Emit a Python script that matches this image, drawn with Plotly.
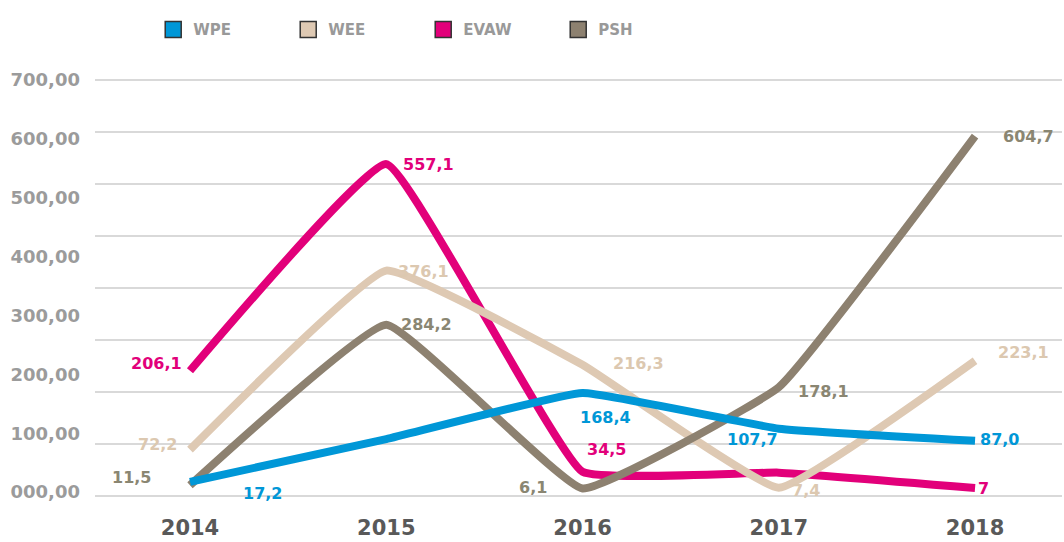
import plotly.graph_objects as go

# ---------------- data ----------------
years = [2014, 2015, 2016, 2017, 2018]
series_names = ["WPE", "WEE", "EVAW", "PSH"]

wpe = [17.2, 90.0, 168.4, 107.7, 87.0]
wee = [72.2, 376.1, 216.3, 7.4, 223.1]
evaw = [206.1, 557.1, 34.5, 33.0, 7.0]
psh = [11.5, 284.2, 6.1, 178.1, 604.7]

wpe_labels = ["17,2", None, "168,4", "107,7", "87,0"]
wee_labels = ["72,2", "376,1", "216,3", "7,4", "223,1"]
evaw_labels = ["206,1", "557,1", "34,5", None, "7"]
psh_labels = ["11,5", "284,2", "6,1", "178,1", "604,7"]

y_tick_values = [0, 100, 200, 300, 400, 500, 600, 700]
y_tick_text = ["000,00", "100,00", "200,00", "300,00", "400,00", "500,00", "600,00", "700,00"]

# ---------------- styles ----------------
colors = {"WPE": "#0097D7", "WEE": "#DEC9B3", "EVAW": "#E2007A", "PSH": "#8D8170"}
label_colors = {"WPE": "#0097D7", "WEE": "#DCC8B0", "EVAW": "#E2007A", "PSH": "#8A8672"}
# pixel offsets of data labels relative to their points
label_shifts = {
    "WPE": [(73, -12), None, (23, -25), (-26, -11), (24, 1)],
    "WEE": [(-32, 5), (37, -1), (56, 1), (27, -3), (48, 8)],
    "EVAW": [(-33, 7), (42, 0), (24, 22), None, (8, -1)],
    "PSH": [(-58, 8), (40, 0), (-50, 1), (45, -4), (53, 0)],
}

values = {"WPE": wpe, "WEE": wee, "EVAW": evaw, "PSH": psh}
labels = {"WPE": wpe_labels, "WEE": wee_labels, "EVAW": evaw_labels, "PSH": psh_labels}

FONT = "DejaVu Sans"

fig = go.Figure()

# draw order (bottom -> top)
for name in ["EVAW", "WEE", "PSH", "WPE"]:
    fig.add_trace(go.Scatter(
        x=years, y=values[name], mode="lines", name=name,
        line=dict(color=colors[name], width=8, shape="spline", smoothing=0.3),
        showlegend=False, hoverinfo="x+y",
    ))

# legend swatches
for name in series_names:
    fig.add_trace(go.Scatter(
        x=[None], y=[None], mode="markers", name=name, yaxis="y2",
        marker=dict(symbol="square", size=16, color=colors[name],
                    line=dict(color="#333333", width=1.5)),
        showlegend=True,
    ))

annotations = []
for name in series_names:
    for yr, v, lab, sh in zip(years, values[name], labels[name], label_shifts[name]):
        if lab is None:
            continue
        annotations.append(dict(
            x=yr, y=v, xref="x", yref="y", text=lab, showarrow=False,
            xshift=sh[0], yshift=sh[1],
            font=dict(family=FONT, size=16, color=label_colors[name], weight="bold"),
        ))

fig.update_layout(
    width=1064, height=542,
    margin=dict(l=95, r=2, t=79, b=42),
    paper_bgcolor="white", plot_bgcolor="white",
    font=dict(family=FONT),
    xaxis=dict(
        range=[2013.516, 2018.443], tickvals=years, ticktext=[str(y) for y in years],
        showgrid=False, zeroline=False, showline=False, ticks="",
        tickfont=dict(family=FONT, size=21, color="#595959", weight="bold"),
        ticklabelstandoff=16,
    ),
    yaxis=dict(
        range=[-8.4, 701.7], tickvals=y_tick_values, ticktext=y_tick_text,
        showgrid=False, zeroline=False, showline=False, ticks="",
        tickfont=dict(family=FONT, size=18, color="#9B9B9B", weight="bold"),
        ticklabelstandoff=14,
    ),
    yaxis2=dict(
        overlaying="y", range=[-0.025, 8.025], tick0=0, dtick=1,
        showgrid=True, gridcolor="#D9D9D9", gridwidth=1.5,
        showticklabels=False, zeroline=False, showline=False, ticks="",
    ),
    legend=dict(
        orientation="h", xref="container", yref="container",
        x=0.144, y=0.945, xanchor="left", yanchor="middle",
        entrywidth=90, entrywidthmode="pixels", itemwidth=30,
        font=dict(family=FONT, size=15, color="#999999", weight="bold"),
    ),
    annotations=annotations,
)

fig.write_html("out.html", config={"displayModeBar": False},
               post_script="document.body.style.margin='0';")
